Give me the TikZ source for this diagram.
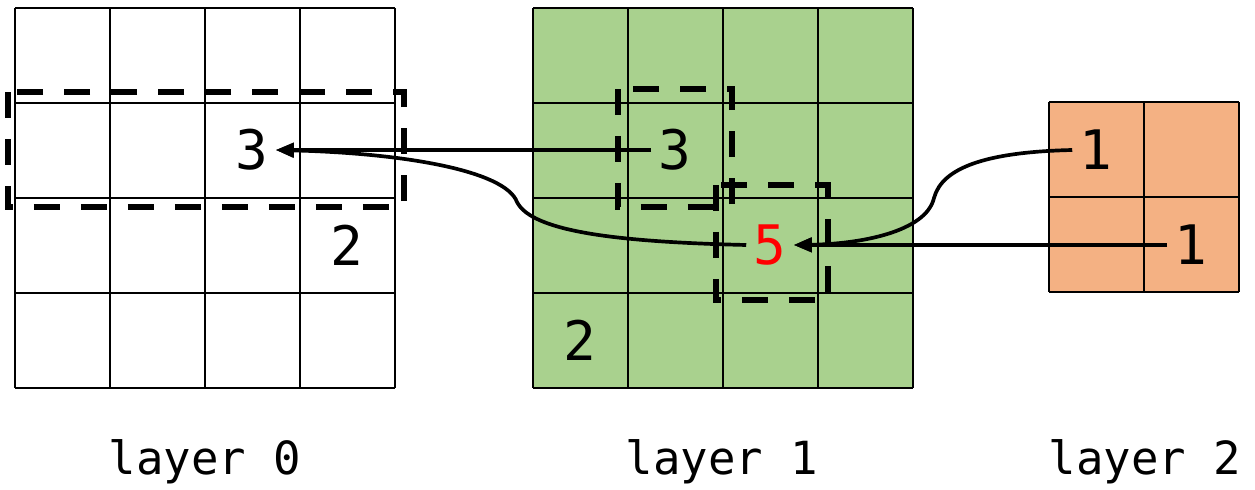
\documentclass[tikz,border=0pt]{standalone}
\usepackage{fontspec}
\setmonofont{DejaVu Sans Mono}
\usetikzlibrary{arrows.meta}
\definecolor{lgreen}{HTML}{A9D18E}
\definecolor{lorange}{HTML}{F4B183}

\begin{document}
\begin{tikzpicture}[x=0.02cm, y=-0.02cm,
    gridline/.style={line width=1.4pt},
    win/.style={line width=3.8pt, dash pattern=on 0.52cm off 0.42cm},
    num/.style={font=\ttfamily\fontsize{31}{31}\selectfont, inner sep=4pt},
    lbl/.style={font=\ttfamily\fontsize{26}{26}\selectfont},
    arr/.style={-{Triangle[length=3.6mm,width=2.8mm]}, line width=2.1pt}]
  \useasboundingbox (0,0) rectangle (1255,490);
  % the three layers
  \fill[lgreen] (533,8) rectangle (913,388);
  \fill[lorange] (1049,102) rectangle (1239,292);
  \foreach \i in {0,...,4} {
    \draw[gridline] (15+95*\i,8) -- (15+95*\i,388);
    \draw[gridline] (15,8+95*\i) -- (395,8+95*\i);
    \draw[gridline] (533+95*\i,8) -- (533+95*\i,388);
    \draw[gridline] (533,8+95*\i) -- (913,8+95*\i);
  }
  \foreach \i in {0,1,2} {
    \draw[gridline] (1049+95*\i,102) -- (1049+95*\i,292);
    \draw[gridline] (1049,102+95*\i) -- (1239,102+95*\i);
  }
  % windows
  \draw[win] (8,92) rectangle (404,207);
  \draw[win] (618,89) rectangle (732,207);
  \draw[win] (716,185) rectangle (828,300);
  % values
  \node[num] (z3) at (252,150) {3};
  \node[num] (z2) at (347,245) {2};
  \node[num] (a3) at (675,150) {3};
  \node[num, text=red] (a5) at (770,245) {5};
  \node[num] (a2) at (580,340) {2};
  \node[num] (b1) at (1096,150) {1};
  \node[num] (b1x) at (1191,245) {1};
  \node[lbl] (lay0) at (205,462) {layer 0};
  \node[lbl] (lay1) at (722,462) {layer 1};
  \node[lbl] (lay2) at (1145,462) {layer 2};
  % links
  \draw[arr] (a3) -- (z3);
  \draw[arr] (a5.west) .. controls (620,242) and (532,232) .. (517,202)
    .. controls (505,170) and (400,153) .. (z3.east);
  \draw[arr] (b1.west) .. controls (985,152) and (942,168) .. (934,198)
    .. controls (926,232) and (860,244) .. (a5.east);
  \draw[arr] (b1x) -- (a5);
\end{tikzpicture}
\end{document}
